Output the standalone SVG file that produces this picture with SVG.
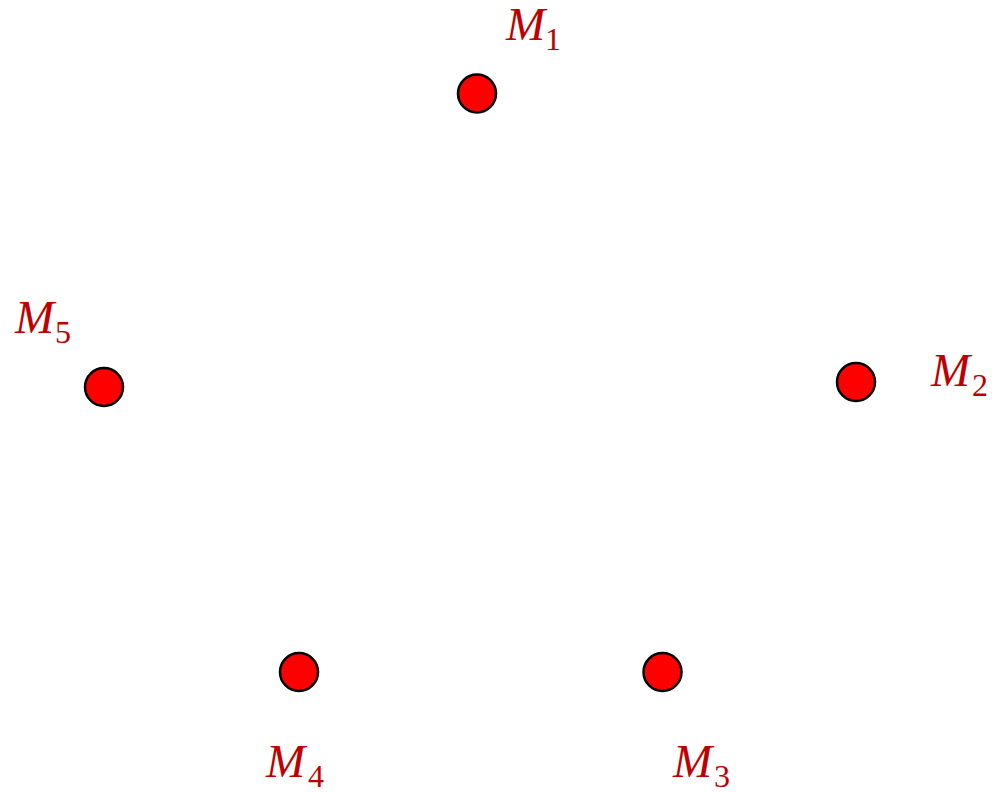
<svg xmlns="http://www.w3.org/2000/svg" width="992" height="792" viewBox="0 0 992 792">
<style>
.pt{fill:#FF0000;stroke:#000;stroke-width:2.5}
.lbl{font-family:"Liberation Serif","DejaVu Serif",serif;fill:#C00000}
.m{font-style:italic;font-size:47px}
.s{font-size:32px}
</style>
<rect width="992" height="792" fill="#fff"/>
<g id="connectors"></g>
<g id="M1"><circle class="pt" cx="477" cy="93.5" r="19"/><text class="lbl" x="506" y="40"><tspan class="m">M</tspan><tspan class="s" x="545" y="50">1</tspan></text></g>
<g id="M2"><circle class="pt" cx="856" cy="382" r="19"/><text class="lbl" x="931" y="386"><tspan class="m">M</tspan><tspan class="s" x="972" y="396">2</tspan></text></g>
<g id="M3"><circle class="pt" cx="662.5" cy="672" r="19"/><text class="lbl" x="673" y="777"><tspan class="m">M</tspan><tspan class="s" x="714" y="787">3</tspan></text></g>
<g id="M4"><circle class="pt" cx="299" cy="672" r="19"/><text class="lbl" x="266" y="777"><tspan class="m">M</tspan><tspan class="s" x="308" y="787">4</tspan></text></g>
<g id="M5"><circle class="pt" cx="104" cy="387" r="19"/><text class="lbl" x="15" y="333"><tspan class="m">M</tspan><tspan class="s" x="55" y="343">5</tspan></text></g>
</svg>
